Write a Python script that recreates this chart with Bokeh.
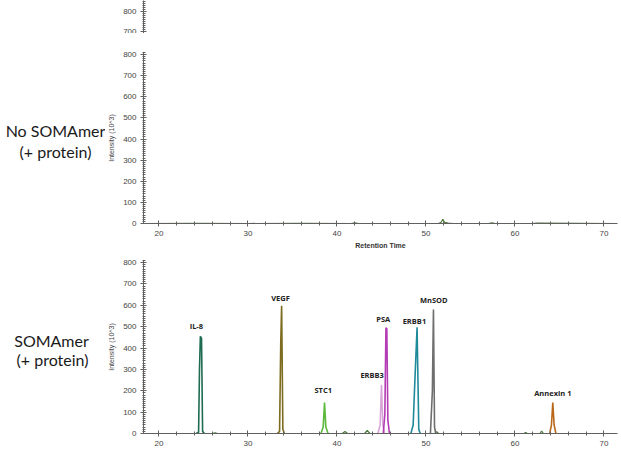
from bokeh.plotting import figure
from bokeh.layouts import column, row
from bokeh.models import Range1d, SingleIntervalTicker
from bokeh.core.properties import value
from bokeh.embed import file_html
from bokeh.resources import INLINE

# ---------------- data ----------------
x_lo, x_hi = 18.26, 71.52

# Control (no SOMAmer) trace: nearly flat baseline with one tiny bump
ctrl_t = [18.4, 24.0, 30.0, 36.0, 41.6, 42.0, 42.4, 51.4, 51.7, 51.9, 52.1, 52.5, 53.0, 57.0, 57.4, 57.8, 62.0, 62.4, 71.4]
ctrl_i = [0, 1, 0, 1, 0, 3, 0, 0, 6, 20, 5, 2, 0, 0, 3, 0, 0, 2, 0]

# SOMAmer baseline with small bumps
base_t = [18.4, 26.0, 26.3, 26.6, 35.0, 40.6, 40.9, 41.2, 43.1, 43.4, 43.7, 51.0, 51.2, 51.4, 61.0, 61.2, 61.4, 62.8, 63.0, 63.2, 71.4]
base_i = [0, 0, 3, 0, 0, 0, 9, 0, 0, 14, 0, 0, 9, 0, 0, 4, 0, 0, 11, 0, 0]

peak_names = ["IL-8", "VEGF", "STC1", "ERBB3", "PSA", "ERBB1", "MnSOD", "Annexin 1"]
peak_colors = ["#1e6b52", "#7d6b1e", "#5cb83a", "#d8a6d8", "#b43cb4", "#1f8a9a", "#6e6e6e", "#b8681a"]

il8_t = [24.2, 24.45, 24.55, 24.65, 24.78, 24.9, 25.1]
il8_i = [0, 6, 300, 455, 445, 10, 0]
vegf_t = [33.3, 33.55, 33.68, 33.78, 33.92, 34.1]
vegf_i = [0, 10, 420, 598, 20, 0]
stc1_t = [38.2, 38.45, 38.6, 38.75, 39.0]
stc1_i = [0, 30, 145, 30, 0]
erbb3_t = [44.6, 44.85, 45.0, 45.15, 45.35]
erbb3_i = [0, 40, 228, 40, 0]
psa_t = [45.2, 45.38, 45.5, 45.6, 45.72, 45.9]
psa_i = [0, 90, 495, 490, 60, 0]
erbb1_t = [48.3, 48.56, 48.74, 49.0, 49.19, 49.35]
erbb1_i = [0, 40, 234, 497, 20, 0]
mnsod_t = [50.5, 50.72, 50.84, 50.96, 51.1]
mnsod_i = [0, 200, 580, 30, 0]
annexin_t = [63.9, 64.1, 64.25, 64.4, 64.6]
annexin_i = [0, 40, 145, 40, 0]

peak_t = [il8_t, vegf_t, stc1_t, erbb3_t, psa_t, erbb1_t, mnsod_t, annexin_t]
peak_i = [il8_i, vegf_i, stc1_i, erbb3_i, psa_i, erbb1_i, mnsod_i, annexin_i]

# label anchor positions (retention time, intensity)
label_t = [24.2, 33.66, 38.45, 43.95, 45.2, 48.7, 50.87, 64.25]
label_i = [505, 633, 206, 276, 535, 529, 626, 189]

# panel titles on the left
side_texts = ["No SOMAmer", "(+ protein)", "SOMAmer", "(+ protein)"]

# ---------------- styling helpers ----------------
AX_COL = "#606060"
TICK_FONT = "Liberation Sans"


def style_axes(p, xlabel=None, ylabel=None):
    p.grid.visible = False
    p.outline_line_color = None
    for ax in p.yaxis:
        ax.ticker = SingleIntervalTicker(interval=100, num_minor_ticks=10)
        ax.axis_line_color = AX_COL
        ax.major_tick_line_color = AX_COL
        ax.minor_tick_line_color = AX_COL
        ax.major_tick_in = 3
        ax.major_tick_out = 3
        ax.minor_tick_in = 2
        ax.minor_tick_out = 1
        ax.major_label_text_font = TICK_FONT
        ax.major_label_text_font_size = "8px"
        ax.major_label_text_color = "#444444"
        ax.major_label_standoff = 4
        if ylabel:
            ax.axis_label = ylabel
            ax.axis_label_text_font = TICK_FONT
            ax.axis_label_text_font_size = "7px"
            ax.axis_label_text_font_style = "normal"
            ax.axis_label_text_color = "#444444"
            ax.axis_label_standoff = 5
    for ax in p.xaxis:
        ax.ticker = SingleIntervalTicker(interval=10, num_minor_ticks=5)
        ax.axis_line_color = AX_COL
        ax.major_tick_line_color = AX_COL
        ax.minor_tick_line_color = AX_COL
        ax.major_tick_in = 3
        ax.major_tick_out = 3
        ax.minor_tick_in = 2
        ax.minor_tick_out = 2
        ax.major_label_text_font = TICK_FONT
        ax.major_label_text_font_size = "8px"
        ax.major_label_text_color = "#444444"
        ax.major_label_standoff = 4
        if xlabel:
            ax.axis_label = xlabel
            ax.axis_label_text_font = TICK_FONT
            ax.axis_label_text_font_size = "7px"
            ax.axis_label_text_font_style = "bold"
            ax.axis_label_text_color = "#333333"
            ax.axis_label_standoff = 3


LEFT_W = 105
W = 516
MBL = 38

# ---------------- left column with the panel titles ----------------
pl = figure(width=LEFT_W, height=464, x_range=Range1d(0, LEFT_W), y_range=Range1d(464, 0),
            x_axis_location=None, y_axis_location=None, min_border=0,
            toolbar_location=None, output_backend="svg")
pl.grid.visible = False
pl.outline_line_color = None
pl.text(x=[55, 55, 51, 52], y=[130, 151, 340, 359], text=side_texts,
        text_align="center", text_baseline="middle", text_font=value("Lato"),
        text_font_size="16px", text_color="#1a1a1a")

# ---------------- top fragment (cut-off chart above) ----------------
p0 = figure(width=W, height=33, x_range=Range1d(x_lo, x_hi), y_range=Range1d(690, 855),
            x_axis_location=None, min_border_left=MBL, min_border_right=4,
            min_border_top=0, min_border_bottom=0, toolbar_location=None, output_backend="svg")
style_axes(p0)

# ---------------- middle: No SOMAmer ----------------
p1 = figure(width=W, height=220, x_range=Range1d(x_lo, x_hi), y_range=Range1d(0, 810),
            min_border_left=MBL, min_border_right=4, min_border_top=19, min_border_bottom=30,
            toolbar_location=None, output_backend="svg")
style_axes(p1, xlabel="Retention Time", ylabel="Intensity (10^3)")
p1.line(ctrl_t, ctrl_i, line_color="#4d7a3a", line_width=1.2)

# ---------------- bottom: SOMAmer ----------------
p2 = figure(width=W, height=211, x_range=Range1d(x_lo, x_hi), y_range=Range1d(0, 810),
            min_border_left=MBL, min_border_right=4, min_border_top=7, min_border_bottom=31,
            toolbar_location=None, output_backend="svg")
style_axes(p2, ylabel="Intensity (10^3)")
p2.line(base_t, base_i, line_color="#4d7a3a", line_width=1.2)
for t, i, c in zip(peak_t, peak_i, peak_colors):
    p2.line(t, i, line_color=c, line_width=1.6)
p2.text(x=label_t, y=label_i, text=peak_names, text_align="center", text_baseline="middle",
        text_font=value("Open Sans"), text_font_size="7.5px", text_font_style="bold",
        text_color="#222222")

layout = row(pl, column(p0, p1, p2, spacing=0), spacing=0)
open("out.html", "w").write(file_html(layout, INLINE))
